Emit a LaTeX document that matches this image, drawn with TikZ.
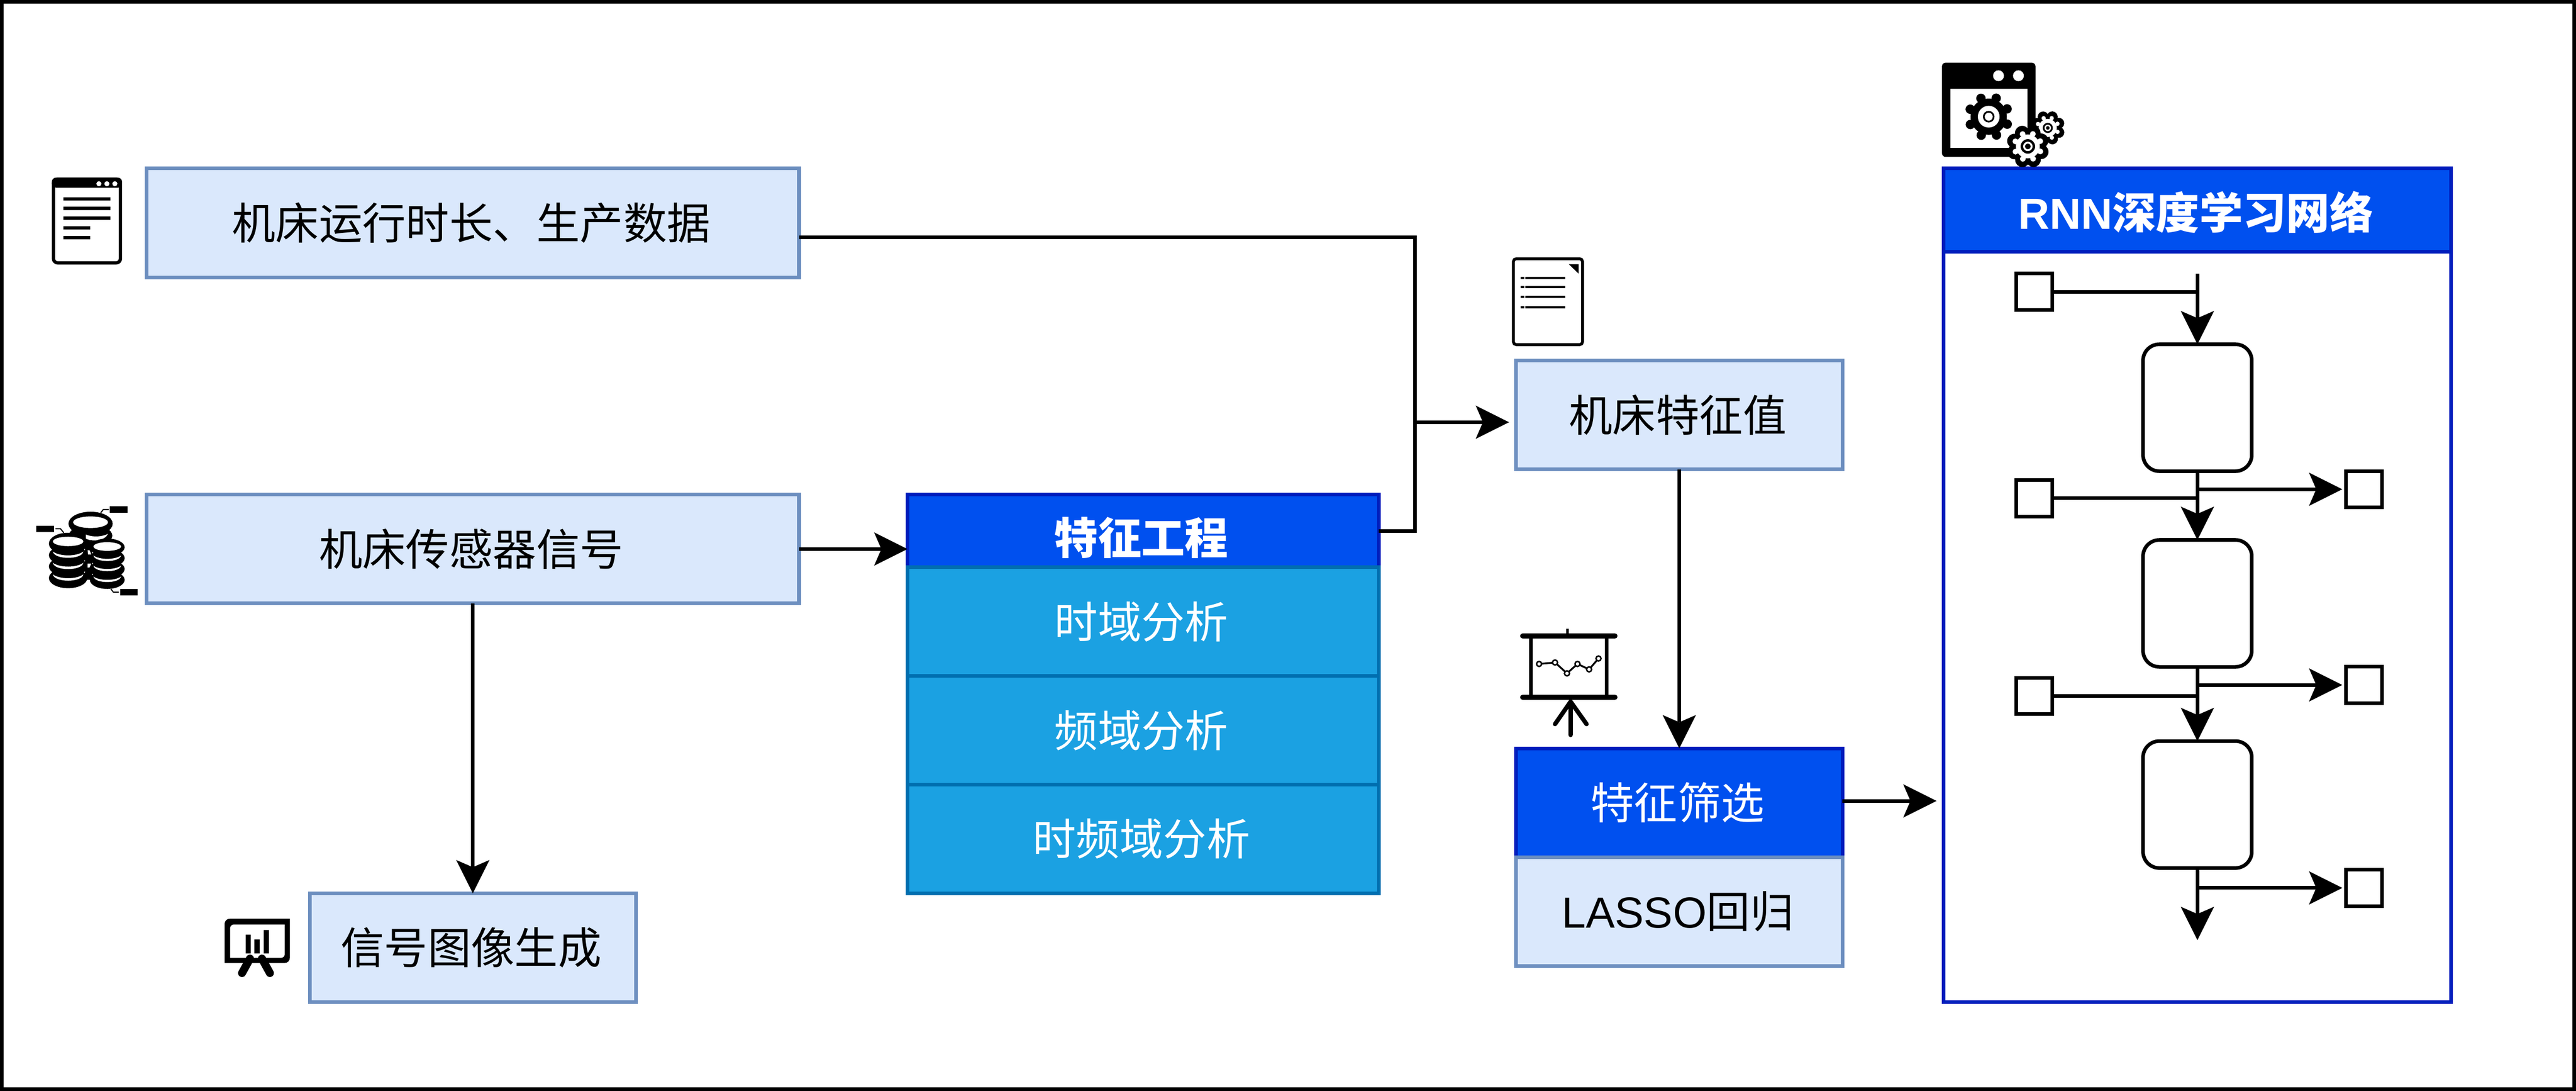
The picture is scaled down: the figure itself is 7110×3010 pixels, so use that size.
\documentclass[tikz,border=0pt]{standalone}
\usepackage{fontspec}
\setmainfont{Liberation Sans}
\newfontfamily\cjk{Noto Sans CJK SC}
\usetikzlibrary{arrows.meta}
\definecolor{paleblue}{HTML}{DAE8FC}
\definecolor{paleedge}{HTML}{6C8EBF}
\definecolor{royalfill}{HTML}{0050EF}
\definecolor{royaledge}{HTML}{001DBC}
\definecolor{skyfill}{HTML}{1BA1E2}
\definecolor{skyedge}{HTML}{006EAF}
\newcommand{\gearlobes}[3]{#1 +(22:#2) circle (#3) +(67:#2) circle (#3) +(112:#2) circle (#3) +(157:#2) circle (#3) +(202:#2) circle (#3) +(247:#2) circle (#3) +(292:#2) circle (#3) +(337:#2) circle (#3)}

\begin{document}
\begin{tikzpicture}[
    x=0.01cm, y=-0.01cm,
    every node/.style={inner sep=0pt, outer sep=0pt, line width=1mm},
    txt/.style={font=\cjk\fontsize{34.14}{40}\selectfont, execute at end node={\kern0.9mm}},
    databox/.style={draw=paleedge, fill=paleblue, txt},
    headbox/.style={draw=royaledge, fill=royalfill, text=white, txt},
    rowbox/.style={draw=skyedge, fill=skyfill, text=white, minimum width=13cm, minimum height=3cm, txt},
    title/.style={text=white, font=\cjk\bfseries\fontsize{34.14}{40}\selectfont, execute at end node={\kern0.9mm}},
    cell/.style={draw, fill=white, minimum width=3cm, minimum height=3.5cm, rounded corners=4.5mm},
    port/.style={draw, fill=white, minimum size=1cm},
    wire/.style={line width=1mm},
    flow/.style={line width=1mm, -{Stealth[length=9.2mm,width=9.2mm,inset=2mm,line width=0pt]}}
]
    \useasboundingbox (0,0) rectangle (7110,3010);
    \draw[line width=1mm] (5,5) rectangle (7105,3005);

    % Inputs
    \node[databox, minimum width=18cm, minimum height=3cm] (runtime) at (1305,615) {机床运行时长、生产数据};
    \node[databox, minimum width=18cm, minimum height=3cm] (sensor) at (1305,1515) {机床传感器信号};
    \node[databox, minimum width=9cm, minimum height=3cm] (image) at (1305,2615) {信号图像生成};

    % Feature engineering
    \node[headbox, minimum width=13cm, minimum height=2cm] (feat) at (3155,1465) {};
    \node[title] (feattitle) at (3155,1484) {特征工程};
    \node[rowbox] (timedom) at (3155,1715) {时域分析};
    \node[rowbox] (freqdom) at (3155,2015) {频域分析};
    \node[rowbox] (tfdom) at (3155,2315) {时频域分析};

    % Feature values and selection
    \node[databox, minimum width=9cm, minimum height=3cm] (values) at (4635,1145) {机床特征值};
    \node[headbox, minimum width=9cm, minimum height=3cm] (select) at (4635,2215) {特征筛选};
    \node[databox, minimum width=9cm, minimum height=3cm] (lasso) at (4635,2515) {{\rmfamily LASSO}回归};

    % RNN
    \node[draw=royaledge, fill=white, minimum width=14cm, minimum height=20.7cm] (rnn) at (6065,1730) {};
    \node[headbox, minimum width=14cm, minimum height=2.3cm] (rnnhead) at (6065,580) {};
    \node[title] (rnntitle) at (6065,585) {{\rmfamily\bfseries RNN}深度学习网络};
    \node[cell] (cella) at (6065,1125) {};
    \node[cell] (cellb) at (6065,1665) {};
    \node[cell] (cellc) at (6065,2220) {};
    \node[port] (ina) at (5615,805) {};
    \node[port] (inb) at (5615,1375) {};
    \node[port] (inc) at (5615,1920) {};
    \node[port] (outa) at (6525,1350) {};
    \node[port] (outb) at (6525,1890) {};
    \node[port] (outc) at (6525,2450) {};
    \coordinate (rnnstart) at (6065,755);
    \coordinate (rnnend) at (6065,2594);

    % Junction
    \coordinate (bus) at (3905,1165);
    \coordinate (buspoint) at (3905,655);
    \coordinate (valuesport) at (4165,1165);
    \coordinate (rnnport) at (5345,2210);

    % Arrows
    \draw[wire] (runtime.east |- buspoint) -- (buspoint) -- (bus);
    \draw[wire] (feat.east) -| (bus);
    \draw[flow] (bus) -- (valuesport);
    \draw[flow] (sensor.east) -- (sensor.east -| feat.west);
    \draw[flow] (sensor.south) -- (image.north);
    \draw[flow] (values.south) -- (select.north);
    \draw[flow] (select.east |- rnnport) -- (rnnport);
    \draw[flow] (rnnstart) -- (cella.north);
    \draw[flow] (cella.south) -- (cellb.north);
    \draw[flow] (cellb.south) -- (cellc.north);
    \draw[flow] (cellc.south) -- (rnnend);
    \draw[wire] (ina.east) -- (ina.east -| cella.north);
    \draw[wire] (inb.east) -- (inb.east -| cella.south);
    \draw[wire] (inc.east) -- (inc.east -| cellb.south);
    \draw[flow, shorten >=1mm] (outa.west -| cella.south) -- (outa.west);
    \draw[flow, shorten >=1mm] (outb.west -| cellb.south) -- (outb.west);
    \draw[flow, shorten >=1mm] (outc.west -| cellc.south) -- (outc.west);

    % Window icon
    \draw[line width=0.9mm, fill=white, rounded corners=1.2mm] (147.5,494.5) rectangle (332.5,725.5);
    \fill[rounded corners=1.2mm] (143,518) -- (143,490) -- (337,490) -- (337,518) -- cycle;
    \fill[white] (273,507) circle (7) (295,507) circle (7) (317,507) circle (7);
    \fill (175,544.5) rectangle (305,553.5) (175,570.5) rectangle (305,579.5) (175,597.5) rectangle (305,606.5);
    \fill (175,624.5) rectangle (249,633.5) (175,651.5) rectangle (249,660.5);

    % Coin stack icon
    \fill (250,1445) ellipse [x radius=61, y radius=33] (250,1478) ellipse [x radius=60, y radius=30];
    \fill[white] (237,1475) .. controls (260,1484) and (285,1480) .. (298,1473) .. controls (290,1492) and (255,1496) .. (237,1486) -- cycle;
    \fill[white] (250,1441) ellipse [x radius=48, y radius=16];
    \fill (235,1490) rectangle (255,1600);
    \fill (188,1500) ellipse [x radius=53, y radius=30] (188,1532) ellipse [x radius=53, y radius=28]
        (188,1563) ellipse [x radius=53, y radius=28] (188,1595) ellipse [x radius=53, y radius=28];
    \fill (296,1510) ellipse [x radius=48, y radius=24] (296,1540) ellipse [x radius=48, y radius=25]
        (296,1570) ellipse [x radius=48, y radius=25] (296,1600) ellipse [x radius=48, y radius=25];
    \fill[white] (242,1518) -- (247,1518) -- (252,1530) -- (243,1530) -- cycle (242,1555) -- (252,1555) -- (247,1566) -- (242,1566) -- cycle;
    \fill[white] (188,1494) ellipse [x radius=42, y radius=13] (296,1508) ellipse [x radius=38, y radius=12];
    \fill[white] (146,1522) .. controls (165,1536) and (211,1536) .. (230,1522) .. controls (226,1545) and (150,1545) .. (146,1522) -- cycle;
    \fill[white] (146,1553) .. controls (165,1567) and (211,1567) .. (230,1553) .. controls (226,1576) and (150,1576) .. (146,1553) -- cycle;
    \fill[white] (146,1585) .. controls (165,1599) and (211,1599) .. (230,1585) .. controls (226,1608) and (150,1608) .. (146,1585) -- cycle;
    \fill[white] (258,1533) .. controls (275,1545) and (317,1545) .. (334,1533) .. controls (330,1553) and (262,1553) .. (258,1533) -- cycle;
    \fill[white] (258,1561) .. controls (275,1573) and (317,1573) .. (334,1561) .. controls (330,1581) and (262,1581) .. (258,1561) -- cycle;
    \fill[white] (258,1591) .. controls (275,1603) and (317,1603) .. (334,1591) .. controls (330,1611) and (262,1611) .. (258,1591) -- cycle;
    \fill (303,1397) rectangle (352,1415) (100,1451) rectangle (149,1468) (332,1625) rectangle (380,1643);
    \draw[line width=0.3mm] (278,1415) -- (285,1406) -- (300,1406) (153,1459) -- (167,1459) -- (176,1470) (306,1625) -- (313,1634) -- (328,1634);

    % Bar chart icon
    \draw[line width=2.2mm, line cap=round] (690,2645) -- (668,2685) (723,2645) -- (745,2685);
    \fill[even odd rule] (634,2535) -- (800,2535) -- (800,2643) arc (0:90:14) -- (620,2657) -- (620,2549) arc (180:270:14) -- cycle
        (642,2551) -- (786,2551) -- (786,2633) arc (0:90:10) -- (635,2643) -- (635,2561) arc (180:270:10) -- cycle;
    \fill (678,2579) rectangle (692,2631) (702,2592) rectangle (717,2631) (728,2566) rectangle (742,2631);

    % Page icon
    \draw[line width=0.8mm, fill=white, rounded corners=0.8mm] (4177,714) rectangle (4368,951);
    \fill (4330,729) -- (4357,729) -- (4357,755) -- cycle;
    \fill (4197,764) rectangle (4207,770) (4210,764) rectangle (4320,770)
        (4197,789) rectangle (4207,795) (4210,789) rectangle (4320,795)
        (4197,816) rectangle (4207,822) (4210,816) rectangle (4320,822)
        (4197,845) rectangle (4207,851) (4210,845) rectangle (4320,851);

    % Screen icon
    \draw[line width=1mm] (4226,1755) -- (4226,1924) (4434,1755) -- (4434,1924);
    \draw[line width=1.5mm, line cap=round] (4203,1755) -- (4457,1755) (4203,1924) -- (4457,1924);
    \draw[line width=0.7mm] (4326,1735) -- (4326,1750);
    \draw[line width=1.2mm, line cap=round] (4335,1936) -- (4335,2028) (4335,1936) -- (4292,1998) (4335,1936) -- (4379,1998);
    \draw[line width=0.5mm] (4248,1832) -- (4292,1828) -- (4325,1858) -- (4354,1832) -- (4386,1847) -- (4412,1817);
    \draw[line width=0.4mm, fill=white] (4248,1832) circle (7) (4292,1828) circle (7) (4325,1858) circle (7) (4354,1832) circle (7) (4386,1847) circle (7) (4412,1817) circle (7);

    % Settings icon
    \fill[rounded corners=1mm] (5360,173) rectangle (5618,433);
    \fill[white] (5383,245) rectangle (5596,408) (5516,209) circle (15) (5571,209) circle (15);
    \fill \gearlobes{(5489,322)}{55}{13};
    \fill (5489,322) circle (50);
    \fill[white] (5489,322) circle (30);
    \fill (5489,322) circle (16);
    \fill[white] (5489,322) circle (11);
    \fill \gearlobes{(5652,353)}{33}{15};
    \fill (5652,353) circle (36);
    \fill[white] \gearlobes{(5652,353)}{29}{6};
    \fill[white] (5652,353) circle (25);
    \fill (5652,353) circle (14);
    \fill[white] (5652,353) circle (9);
    \fill (5652,353) circle (5);
    \fill \gearlobes{(5597,404)}{40}{20};
    \fill (5597,404) circle (45);
    \fill[white] \gearlobes{(5597,404)}{37}{8};
    \fill[white] (5597,404) circle (33);
    \fill (5597,404) circle (20);
    \fill[white] (5597,404) circle (13);
    \fill (5597,404) circle (8);
\end{tikzpicture}
\end{document}
